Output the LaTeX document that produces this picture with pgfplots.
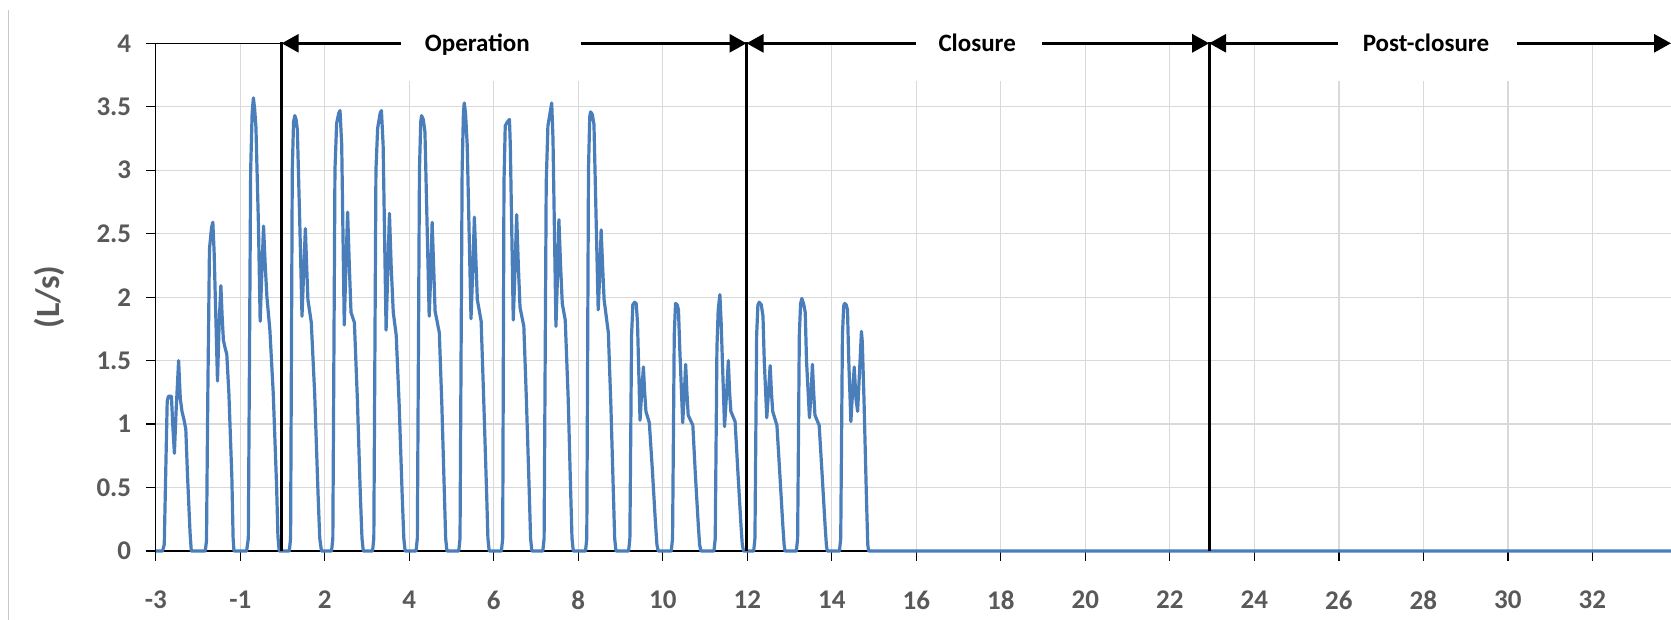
\documentclass[border=0pt]{standalone}
\usepackage{pgfplots}
\pgfplotsset{compat=1.18}
\usepackage{fontspec}
\setmainfont{Carlito}
\usetikzlibrary{arrows.meta}
\definecolor{lineblue}{HTML}{4A7EBB}
\definecolor{txtgray}{HTML}{595959}
\definecolor{gridgray}{HTML}{D9D9D9}
\definecolor{framegray}{HTML}{C8C8C8}

\begin{document}
\begin{tikzpicture}
\useasboundingbox (0,0) rectangle (835.5pt,310pt);
\draw[framegray, line width=0.6pt] (4.2pt,0) -- (4.2pt,305pt);
\begin{axis}[
  at={(77.9pt,34.5pt)}, anchor=south west,
  width=757.6pt, height=253.85pt, scale only axis,
  xmin=-2, xmax=33.86, ymin=0, ymax=4,
  axis lines*=left,
  axis line style={black, line width=0.6pt},
  clip=false,
  xtick={-2,0,2,4,6,8,10,12,14,16,18,20,22,24,26,28,30,32},
  xticklabels={-3,-1,2,4,6,8,10,12,14,16,18,20,22,24,26,28,30,32},
  ytick={0,0.5,1,1.5,2,2.5,3,3.5,4},
  yticklabels={0,0.5,1,1.5,2,2.5,3,3.5,4},
  tick align=outside,
  major tick length=4.8pt,
  tick style={black, line width=0.6pt},
  grid=major,
  major grid style={gridgray, line width=0.6pt},
  xticklabel style={font=\fontsize{13.5}{15}\selectfont\bfseries, text=txtgray, yshift=-11.5pt},
  yticklabel style={font=\fontsize{13.5}{15}\selectfont\bfseries, text=txtgray, xshift=-4pt},
  ylabel={(L/s)},
  ylabel style={font=\fontsize{17}{20}\selectfont\bfseries, text=txtgray,
                at={(axis description cs:-0.0700,0.5)}, anchor=center},
]
% white label boxes
\fill[white] (axis cs:3.80,3.70) rectangle (axis cs:8.06,4.08);
\fill[white] (axis cs:15.98,3.70) rectangle (axis cs:18.97,4.08);
\fill[white] (axis cs:25.98,3.70) rectangle (axis cs:30.22,4.08);

\addplot[lineblue, line width=1.6pt, line join=round, mark=none] coordinates {
(-2.00,0) (-1.84,0) (-1.80,0.05) (-1.76,0.7) (-1.73,1.18) (-1.70,1.22) (-1.63,1.22) (-1.60,1.0) (-1.56,0.77) (-1.52,1.1) (-1.46,1.50) (-1.42,1.2) (-1.38,1.10) (-1.33,1.03) (-1.29,0.96) (-1.25,0.6) (-1.19,0.15) (-1.16,0)
(-0.83,0) (-0.80,0.08) (-0.77,1.2) (-0.73,2.38) (-0.68,2.55) (-0.65,2.59) (-0.62,2.36) (-0.58,1.85) (-0.54,1.34) (-0.50,1.8) (-0.46,2.09) (-0.43,1.85) (-0.40,1.66) (-0.36,1.60) (-0.32,1.55) (-0.27,1.24) (-0.20,0.58) (-0.17,0.1) (-0.15,0)
(0.15,0) (0.19,0.1) (0.245,3.0) (0.28,3.45) (0.31,3.57) (0.34,3.48) (0.37,3.34) (0.43,2.56) (0.47,1.81) (0.51,2.2) (0.55,2.56) (0.59,2.25) (0.63,2.0) (0.70,1.74) (0.78,1.24) (0.86,0.5) (0.89,0.12) (0.92,0)
(1.16,0) (1.19,0.1) (1.23,3.0) (1.26,3.38) (1.29,3.43) (1.32,3.40) (1.35,3.32) (1.41,2.55) (1.46,1.85) (1.50,2.2) (1.54,2.54) (1.57,2.25) (1.60,1.98) (1.68,1.80) (1.76,1.24) (1.84,0.45) (1.88,0.1) (1.92,0)
(2.16,0) (2.19,0.1) (2.24,3.0) (2.28,3.37) (2.33,3.45) (2.36,3.47) (2.40,3.2) (2.46,1.78) (2.50,2.25) (2.54,2.67) (2.58,2.25) (2.62,1.88) (2.70,1.80) (2.77,1.2) (2.84,0.45) (2.88,0.1) (2.91,0)
(3.13,0) (3.16,0.1) (3.21,3.0) (3.25,3.33) (3.31,3.45) (3.34,3.47) (3.38,3.2) (3.45,1.74) (3.49,2.2) (3.53,2.66) (3.57,2.25) (3.62,1.88) (3.69,1.70) (3.76,1.15) (3.83,0.45) (3.87,0.1) (3.90,0)
(4.16,0) (4.19,0.1) (4.24,3.0) (4.27,3.38) (4.29,3.43) (4.33,3.40) (4.37,3.30) (4.47,1.85) (4.51,2.2) (4.54,2.59) (4.58,2.2) (4.61,1.89) (4.71,1.72) (4.77,1.15) (4.83,0.45) (4.86,0.1) (4.89,0)
(5.17,0) (5.20,0.1) (5.25,3.0) (5.28,3.45) (5.30,3.53) (5.33,3.45) (5.37,3.2) (5.46,1.83) (5.50,2.2) (5.54,2.63) (5.58,2.25) (5.61,1.98) (5.70,1.81) (5.76,1.2) (5.83,0.45) (5.86,0.1) (5.89,0)
(6.18,0) (6.21,0.1) (6.24,2.9) (6.27,3.35) (6.32,3.38) (6.37,3.40) (6.39,3.2) (6.46,1.82) (6.50,2.2) (6.54,2.65) (6.58,2.25) (6.62,1.92) (6.71,1.77) (6.77,1.2) (6.84,0.45) (6.87,0.1) (6.90,0)
(7.16,0) (7.19,0.1) (7.24,2.9) (7.28,3.35) (7.33,3.45) (7.37,3.53) (7.40,3.25) (7.47,1.77) (7.51,2.2) (7.54,2.61) (7.58,2.25) (7.62,1.95) (7.69,1.82) (7.76,1.2) (7.82,0.45) (7.85,0.1) (7.88,0)
(8.17,0) (8.20,0.1) (8.24,3.0) (8.27,3.42) (8.29,3.46) (8.33,3.44) (8.37,3.36) (8.47,1.90) (8.51,2.2) (8.54,2.53) (8.58,2.2) (8.61,1.98) (8.71,1.72) (8.77,1.15) (8.83,0.45) (8.86,0.1) (8.89,0)
(9.19,0) (9.22,0.1) (9.26,1.7) (9.29,1.94) (9.33,1.96) (9.37,1.95) (9.40,1.8) (9.46,1.03) (9.50,1.25) (9.54,1.45) (9.57,1.25) (9.60,1.10) (9.68,1.01) (9.75,0.65) (9.82,0.25) (9.86,0.05) (9.89,0)
(10.20,0) (10.23,0.1) (10.27,1.7) (10.30,1.95) (10.34,1.94) (10.37,1.90) (10.40,1.6) (10.47,1.01) (10.51,1.25) (10.54,1.47) (10.57,1.25) (10.60,1.07) (10.71,0.99) (10.77,0.6) (10.84,0.2) (10.87,0.05) (10.90,0)
(11.21,0) (11.24,0.1) (11.28,1.6) (11.31,1.9) (11.35,2.02) (11.38,1.8) (11.46,0.98) (11.51,1.25) (11.55,1.50) (11.58,1.25) (11.61,1.10) (11.71,1.02) (11.78,0.6) (11.85,0.2) (11.88,0.05) (11.91,0)
(12.15,0) (12.18,0.1) (12.22,1.7) (12.25,1.94) (12.28,1.96) (12.33,1.94) (12.37,1.85) (12.40,1.5) (12.46,1.05) (12.50,1.25) (12.54,1.46) (12.57,1.25) (12.60,1.10) (12.70,0.99) (12.77,0.6) (12.84,0.2) (12.87,0.05) (12.89,0)
(13.16,0) (13.19,0.1) (13.23,1.7) (13.26,1.95) (13.29,1.99) (13.33,1.95) (13.37,1.88) (13.40,1.5) (13.47,1.05) (13.51,1.25) (13.54,1.47) (13.57,1.25) (13.60,1.07) (13.70,0.99) (13.77,0.6) (13.84,0.2) (13.87,0.05) (13.89,0)
(14.18,0) (14.21,0.1) (14.25,1.7) (14.28,1.93) (14.30,1.95) (14.34,1.94) (14.37,1.90) (14.40,1.5) (14.45,1.02) (14.49,1.25) (14.53,1.45) (14.57,1.2) (14.61,1.10) (14.66,1.45) (14.70,1.73) (14.72,1.65) (14.76,1.2) (14.82,0.4) (14.85,0.05) (14.87,0)
(33.86,0)
};

% phase boundary lines
\draw[black, line width=0.6pt] (axis cs:-2,4) -- (axis cs:0.98,4);
\draw[black, line width=1.5pt] (axis cs:0.98,0) -- (axis cs:0.98,4.01);
\draw[black, line width=1.5pt] (axis cs:11.98,0) -- (axis cs:11.98,4.01);
\draw[black, line width=1.5pt] (axis cs:22.93,0) -- (axis cs:22.93,4.01);

% arrows
\tikzset{phasearrow/.style={black, line width=1.5pt, -{Triangle[length=8.5pt,width=9pt]}}}
\draw[phasearrow] (axis cs:3.80,4) -- (axis cs:0.98,4);
\draw[phasearrow] (axis cs:8.06,4) -- (axis cs:11.98,4);
\draw[phasearrow] (axis cs:15.98,4) -- (axis cs:11.98,4);
\draw[phasearrow] (axis cs:18.97,4) -- (axis cs:22.93,4);
\draw[phasearrow] (axis cs:25.98,4) -- (axis cs:22.93,4);
\draw[phasearrow] (axis cs:30.22,4) -- (axis cs:33.86,4);

\node[font=\fontsize{12.5}{15}\selectfont\bfseries, anchor=base, yshift=-4pt] at (axis cs:5.61,4) {Operation};
\node[font=\fontsize{12.5}{15}\selectfont\bfseries, anchor=base, yshift=-4pt] at (axis cs:17.44,4) {Closure};
\node[font=\fontsize{12.5}{15}\selectfont\bfseries, anchor=base, yshift=-4pt] at (axis cs:28.06,4) {Post-closure};
\end{axis}
\end{tikzpicture}
\end{document}
